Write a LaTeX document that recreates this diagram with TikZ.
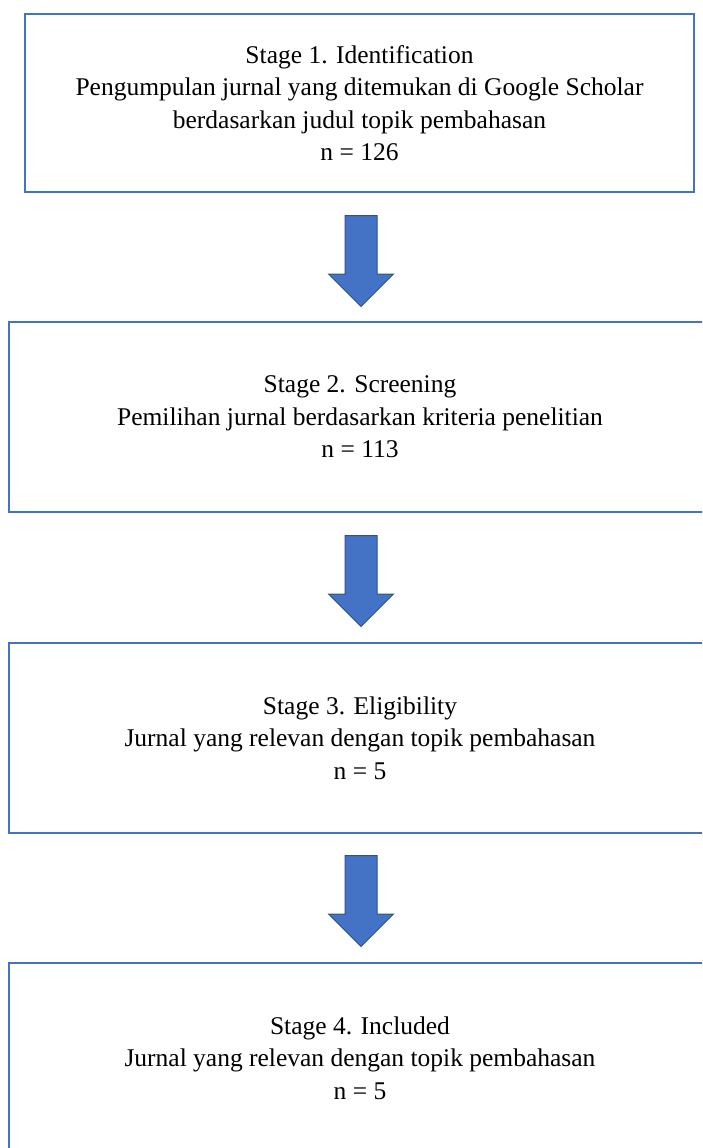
\documentclass[tikz,border=0pt]{standalone}
\usepackage{fontspec}
\setmainfont{Liberation Serif}
\usetikzlibrary{shapes.arrows}
\definecolor{boxblue}{HTML}{4472C4}
\definecolor{arrowedge}{HTML}{2F528F}

\begin{document}
\begin{tikzpicture}[x=1pt, y=-1pt, stage/.style={rectangle, draw=boxblue, line width=1.5pt, minimum width=669pt, minimum height=178pt, align=center, inner sep=0pt, font=\fontsize{25.5}{32.5}\selectfont}, widestage/.style={stage, minimum width=702pt, minimum height=190pt}, downarrow/.style={single arrow, draw=arrowedge, fill=boxblue, line width=1pt, shape border rotate=270, inner sep=15.5pt, minimum width=64pt, single arrow head extend=16.5pt, minimum height=91pt}]
		\clip (0,0) rectangle (702,1148);
		\node[stage] (ident) at (359.5,103) {Stage 1. Identification\\Pengumpulan jurnal yang ditemukan di Google Scholar\\berdasarkan judul topik pembahasan\\n = 126};
		\node[widestage] (screen) at (360,417) {Stage 2. Screening\\Pemilihan jurnal berdasarkan kriteria penelitian\\n = 113};
		\node[widestage] (elig) at (360,738) {Stage 3. Eligibility\\Jurnal yang relevan dengan topik pembahasan\\n = 5};
		\node[widestage] (incl) at (360,1058) {Stage 4. Included\\Jurnal yang relevan dengan topik pembahasan\\n = 5};
		\node[downarrow] (a1) at (361,253) {};
		\node[downarrow] (a2) at (361,573) {};
		\node[downarrow] (a3) at (361,893) {};
	\end{tikzpicture}
\end{document}
